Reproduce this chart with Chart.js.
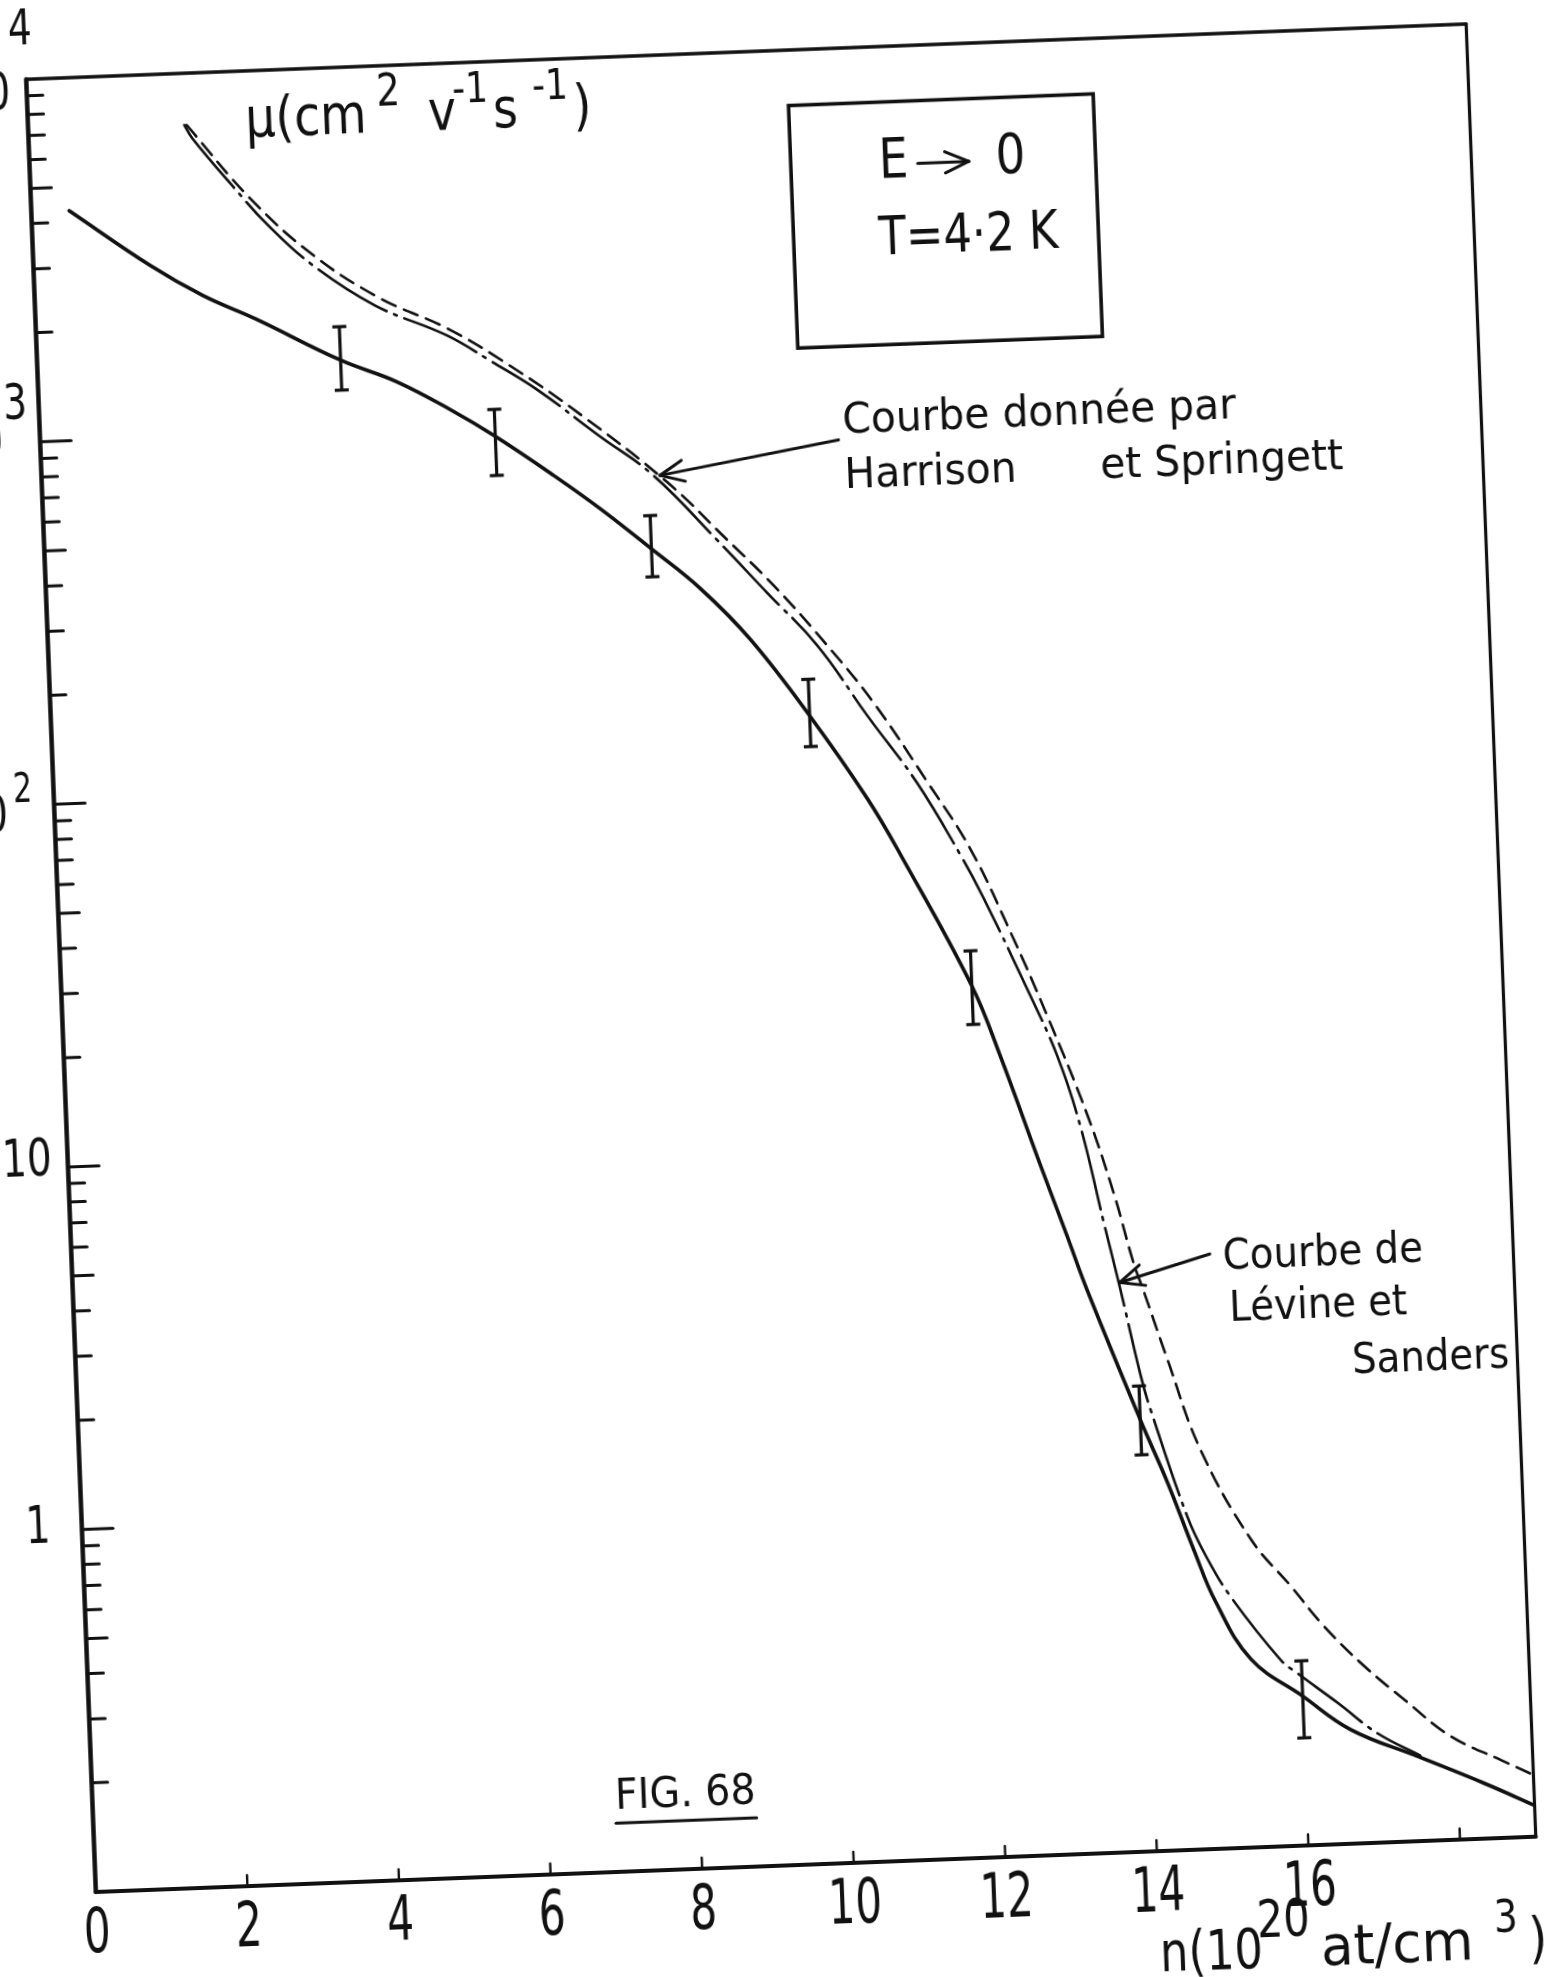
<!DOCTYPE html>
<html>
<head>
<meta charset="utf-8">
<script src="https://cdn.jsdelivr.net/npm/chart.js@4.4.1/dist/chart.umd.min.js"></script>
<style>
  html, body { margin: 0; padding: 0; background: #fff; overflow: hidden; width: 1558px; height: 1977px; position: relative; }
  /* the drawing sits slightly tilted on the sheet */
  #sheet { position: absolute; left: -100px; top: -80px; width: 1758px; height: 2137px;
           transform-origin: 881px 1038px; transform: rotate(-2.2deg); }
  canvas { display: block; }
</style>
</head>
<body>
<div id="sheet"><canvas id="fig" width="1758" height="2137"></canvas></div>
<script>
// Mobility mu (cm2 V-1 s-1) versus concentration n (10^20 at/cm3), E -> 0, T = 4.2 K

// measured curve (solid) and its error bars
const expN  = [0.5, 1.54, 2.22, 2.90, 4.0, 4.72, 5.44, 6.0, 6.75, 7.35, 8.0, 8.63, 9.26, 10.0, 10.72, 11.13, 12.0, 12.34, 12.82, 13.13, 13.36, 14.0, 14.33, 14.64, 14.9, 15.34, 16.0, 16.62, 17.49, 18.35, 19.0];
const expMu = [4300, 2980, 2430, 2070, 1560, 1345, 1104, 927, 713, 570, 437, 335, 240, 146, 85, 59, 25.3, 16.1, 7.9, 5.05, 3.6, 1.55, 1.03, 0.67, 0.48, 0.33, 0.258, 0.206, 0.171, 0.142, 0.122];

const barN    = [4, 6, 8, 10, 12, 14, 16];
const barLow  = [1290, 723, 366, 120, 19.8, 1.24, 0.198];
const barHigh = [1930, 1100, 540, 184, 31.6, 1.92, 0.323];

// Lévine et Sanders (long dash - dot)
const levN  = [2.06, 2.16, 2.66, 3.11, 3.68, 4.48, 5.41, 5.99, 6.56, 7.36, 8.06, 8.87, 9.50, 10.14, 10.76, 11.38, 11.92, 12.20, 12.73, 13.09, 13.36, 13.62, 13.79, 14.03, 14.14, 14.57, 14.80, 15.10, 15.73, 15.94, 16.46, 16.97, 17.52];
const levMu = [7200, 6600, 4850, 3740, 2870, 2190, 1780, 1490, 1240, 910, 697, 455, 322, 227, 144, 93, 58, 44, 24.4, 15.9, 10.1, 5.45, 3.68, 2.04, 1.65, 0.83, 0.64, 0.494, 0.326, 0.299, 0.245, 0.20, 0.172];

// Harrison et Springett (dashed)
const harN  = [2.09, 2.89, 3.69, 4.55, 5.42, 6.22, 7.14, 8.24, 9.0, 9.60, 10.26, 10.85, 11.52, 12.05, 12.54, 12.98, 13.46, 13.77, 13.99, 14.11, 14.39, 14.78, 15.40, 15.90, 16.32, 16.83, 17.34, 17.93, 18.58, 19.0];
const harMu = [7200, 4450, 3060, 2290, 1860, 1450, 1040, 665, 455, 335, 228, 156, 93, 60.3, 35.1, 20.5, 10.8, 6.5, 4.2, 3.5, 2.25, 1.26, 0.705, 0.52, 0.399, 0.307, 0.246, 0.193, 0.164, 0.148];

// axes
const xMin = 0, xMax = 19;
const yMin = 0.1, yMax = 10000;
const xTickVals   = [0, 2, 4, 6, 8, 10, 12, 14, 16, 18];
const xTickLabels = ['0', '2', '4', '6', '8', '10', '12', '14', '16', ''];
const yDecades    = [10000, 1000, 100, 10, 1];
const yLabelBase  = ['10', '10', '10', '10', '1'];
const yLabelExp   = ['4', '3', '2', '', ''];

const FONT = '"DejaVu Sans", "Liberation Sans", sans-serif';

function pts(xs, ys) { return xs.map((v, i) => ({ x: v, y: ys[i] })); }

function txt(ctx, s, px, py, size, opt) {
  opt = opt || {};
  ctx.save();
  ctx.font = size + 'px ' + FONT;
  ctx.textAlign = opt.align || 'left';
  ctx.textBaseline = opt.base || 'alphabetic';
  ctx.fillStyle = '#111';
  ctx.translate(px, py);
  ctx.scale(opt.sx || 1, 1);
  ctx.fillText(s, 0, 0);
  const w = ctx.measureText(s).width * (opt.sx || 1);
  ctx.restore();
  return w;
}

function line(ctx, x1, y1, x2, y2, w) {
  ctx.lineWidth = w;
  ctx.beginPath(); ctx.moveTo(x1, y1); ctx.lineTo(x2, y2); ctx.stroke();
}

function arrow(ctx, tail, tip, w) {
  line(ctx, tail[0], tail[1], tip[0], tip[1], w);
  const ang = Math.atan2(tail[1] - tip[1], tail[0] - tip[0]);
  const L = 26, spread = 0.42;
  line(ctx, tip[0], tip[1], tip[0] + L * Math.cos(ang - spread), tip[1] + L * Math.sin(ang - spread), w);
  line(ctx, tip[0], tip[1], tip[0] + L * Math.cos(ang + spread), tip[1] + L * Math.sin(ang + spread), w);
}

const figureDecor = {
  id: 'figureDecor',
  afterDatasetsDraw(chart) {
    const { ctx, chartArea: a, scales: { x, y } } = chart;
    const P = (n, mu) => [x.getPixelForValue(n), y.getPixelForValue(mu)];
    ctx.save();
    ctx.strokeStyle = '#111';
    ctx.lineCap = 'round';

    // frame
    line(ctx, a.left, a.top, a.left, a.bottom, 4.5);
    line(ctx, a.left, a.bottom, a.right, a.bottom, 4.2);
    line(ctx, a.left, a.top, a.right, a.top, 3.6);
    line(ctx, a.right, a.top, a.right, a.bottom, 3.2);

    // y ticks (log decades with 2..9 subdivisions), drawn inward
    for (let d = -1; d <= 3; d++) {
      for (let m = 1; m <= 9; m++) {
        const v = m * Math.pow(10, d);
        if (v <= yMin) continue;
        const py = y.getPixelForValue(v);
        const len = m === 1 ? 31 : (m === 5 ? 21 : 16);
        line(ctx, a.left, py, a.left + len, py, 3);
      }
    }
    // x ticks, short and inward
    xTickVals.forEach(v => {
      if (v <= xMin) return;
      const px = x.getPixelForValue(v);
      line(ctx, px, a.bottom, px, a.bottom - 11, 2.4);
    });

    // x tick labels
    xTickVals.forEach((v, i) => {
      if (!xTickLabels[i]) return;
      txt(ctx, xTickLabels[i], x.getPixelForValue(v), a.bottom + 60, 62, { align: 'center', sx: 0.68 });
    });

    // y decade labels (hand-lettered placement)
    const place = [
      { bx: -16.5, by: 15,  ex: -16.5, ey: -48, ef: 50 },
      { bx: -37,   by: 2,   ex: -35.5, ey: -37, ef: 50 },
      { bx: -46.5, by: 12,  ex: -40.5, ey: -14, ef: 40 },
      { bx: -16,   by: -6 },
      { bx: -31.5, by: -1.5 }
    ];
    yDecades.forEach((v, i) => {
      const py = y.getPixelForValue(v);
      const p = place[i];
      txt(ctx, yLabelBase[i], a.left + p.bx, py + p.by, 52, { align: 'right', base: 'middle', sx: 0.75 });
      if (yLabelExp[i]) {
        txt(ctx, yLabelExp[i], a.left + p.ex, py + p.ey, p.ef, { align: 'left', base: 'middle', sx: 0.75 });
      }
    });

    // error bars
    ctx.lineCap = 'butt';
    barN.forEach((n, i) => {
      const px = x.getPixelForValue(n);
      const y1 = y.getPixelForValue(barLow[i]);
      const y2 = y.getPixelForValue(barHigh[i]);
      line(ctx, px, y1, px, y2, 3.2);
      line(ctx, px - 7, y1, px + 7, y1, 3.2);
      line(ctx, px - 7, y2, px + 7, y2, 3.2);
    });
    ctx.lineCap = 'round';

    // axis title (vertical)
    const [mx, my] = P(2.865, 6561);
    const mu = [
      { t: 'μ(cm', dx: 0,   dy: 0,   f: 56 },
      { t: '2',    dx: 132, dy: -26, f: 44 },
      { t: 'v',    dx: 183, dy: 0,   f: 56 },
      { t: '-1',   dx: 208, dy: -26, f: 42 },
      { t: 's',    dx: 248, dy: 0,   f: 56 },
      { t: '-1',   dx: 288, dy: -26, f: 42 },
      { t: ')',    dx: 328, dy: 0,   f: 56 }
    ];
    mu.forEach(s => txt(ctx, s.t, mx + s.dx, my + s.dy, s.f, { sx: 0.85 }));

    // axis title (horizontal)
    const nx = x.getPixelForValue(13.99), ny = a.bottom + 120;
    const nt = [
      { t: 'n(10',  dx: 0,   dy: 0,   f: 56, sx: 0.8 },
      { t: '20',    dx: 98,  dy: -30, f: 52, sx: 0.8 },
      { t: 'at/cm', dx: 161, dy: 0,   f: 56, sx: 0.95 },
      { t: '3',     dx: 335, dy: -26, f: 44, sx: 0.85 },
      { t: ')',     dx: 369, dy: 0,   f: 56, sx: 0.85 }
    ];
    nt.forEach(s => txt(ctx, s.t, nx + s.dx, ny + s.dy, s.f, { sx: s.sx }));

    // condition box
    const [bx1, by1] = P(10.03, 7031);
    const [bx2, by2] = P(14.05, 1507);
    ctx.lineWidth = 3.6;
    ctx.strokeRect(bx1, by1, bx2 - bx1, by2 - by1);
    const [ex, ey] = P(11.19, 4350);
    txt(ctx, 'E', ex, ey, 55, { sx: 0.85 });
    arrow(ctx, [ex + 39, ey - 13], [ex + 90, ey - 13], 3);
    txt(ctx, '0', ex + 117, ey, 55, { sx: 0.85 });
    const [tx, ty] = P(11.15, 2673);
    txt(ctx, 'T=4·2 K', tx, ty, 54, { sx: 0.83 });

    // curve annotations
    const [h1x, h1y] = P(10.58, 867);
    txt(ctx, 'Courbe donnée par', h1x, h1y, 43, { sx: 0.95 });
    const [h2x, h2y] = P(10.58, 614);
    txt(ctx, 'Harrison', h2x, h2y, 43, { sx: 0.95 });
    txt(ctx, 'et Springett', h2x + 256, h2y, 43, { sx: 0.95 });
    arrow(ctx, P(10.52, 834), P(8.15, 695), 3);

    const [l1x, l1y] = P(15.17, 3.95);
    txt(ctx, 'Courbe de', l1x, l1y, 43, { sx: 0.9 });
    const [l2x, l2y] = P(15.23, 2.84);
    txt(ctx, 'Lévine et', l2x, l2y, 43, { sx: 0.9 });
    const [l3x, l3y] = P(16.82, 1.97);
    txt(ctx, 'Sanders', l3x, l3y, 43, { sx: 0.9 });
    arrow(ctx, P(15.0, 4.36), P(13.80, 3.72), 3);

    // figure number
    const [fx, fy] = P(6.89, 0.149);
    const fw = txt(ctx, 'FIG. 68', fx, fy, 43, { sx: 0.92 });
    line(ctx, fx, fy + 14, fx + fw, fy + 14, 3);

    ctx.restore();
  }
};

const curve = { pointRadius: 0, fill: false, tension: 0.4, borderColor: '#111', borderCapStyle: 'round' };

new Chart(document.getElementById('fig'), {
  type: 'line',
  data: {
    datasets: [
      Object.assign({ label: 'mesure', data: pts(expN, expMu), borderWidth: 3.6 }, curve),
      Object.assign({ label: 'Lévine et Sanders', data: pts(levN, levMu), borderWidth: 2.6,
        borderDash: [80, 8, 3, 8] }, curve),
      Object.assign({ label: 'Harrison et Springett', data: pts(harN, harMu), borderWidth: 2.6,
        borderDash: [15, 9] }, curve)
    ]
  },
  options: {
    responsive: false,
    devicePixelRatio: 1,
    animation: false,
    events: [],
    layout: { padding: { left: 160.5, top: 131, right: 156.5, bottom: 192 } },
    plugins: { legend: { display: false }, tooltip: { enabled: false } },
    scales: {
      x: { type: 'linear', min: xMin, max: xMax, display: false },
      y: { type: 'logarithmic', min: yMin, max: yMax, display: false }
    }
  },
  plugins: [figureDecor]
});
</script>
</body>
</html>
